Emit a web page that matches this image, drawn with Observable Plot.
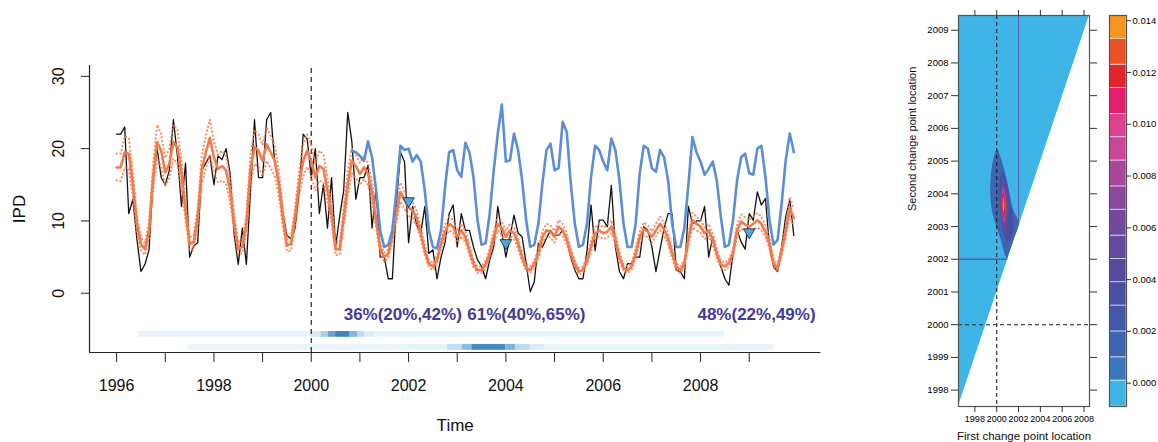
<!DOCTYPE html>
<html><head><meta charset="utf-8">
<script src="https://cdn.jsdelivr.net/npm/d3@7"></script>
<script src="https://cdn.jsdelivr.net/npm/@observablehq/plot@0.6"></script>
<style>
html,body{margin:0;padding:0;background:#fff;}
#wrap{position:relative;width:1158px;height:442px;overflow:hidden;background:#fff;}
#wrap > div{position:absolute;top:0;}
</style></head><body>
<div id="wrap"><div id="main" style="left:0"></div><div id="heat" style="left:880px"></div><div id="key" style="left:1100px"></div></div>
<script>
// ---------------- data ----------------
const startYear = 1996;
const observed = [22,22,23,11,13,7.5,3,4,6,16,20,16, 15,17,24,19,12,18,5,6.5,7,17,18,19, 15,19,18.5,20,16.5,8,4,9,4,14,24,16, 16,24,25,18,15.5,11,8,7.5,9,14,22,21.3, 16,20,11,15,9,16,6.4,10.6,14.2,25,21,13, 16,16,17.7,9,14.7,5,5,2,2,12.4,19.5,18.2, 7,12,9.4,8.3,12,5.5,6,2,5,7,11,12.2, 6.4,11,8.7,8.7,6.4,4.6,3.7,2,4.6,6.4,12,8.3, 5,7.8,10.8,8.3,7.8,4.1,0.2,1.6,6.9,6.4,7.6,8.7, 8,8,8.7,7.6,5,3.2,2,2,5.9,12.2,5.9,10.1, 10.1,9.2,14.9,6.4,3,2,4.1,4.1,5,5,9.2,8.7, 6.4,3,6,9,11,11,3.2,3,2,12,9.6,10, 10,12,5,7.8,5.5,3.7,2,1.1,5.5,8.7,7.1,6.1, 11,10.1,14,12.2,13.1,6.4,3.7,3,6.4,10.6,12.9,8];
const fitted = [17.4,17.4,19.5,19.3,15.1,9.6,6.8,6.1,8.7,16.0,20.9,19.7, 16.7,17.9,20.9,20.2,16.5,11.4,6.8,7.1,10.5,17.0,19.5,21.5, 18.8,17.2,17.6,17.0,14.2,9.6,6.1,6.4,9.6,17.0,20.2,19.7, 18.3,20.6,19.5,18.3,15.1,10.5,6.6,6.8,10.5,15.1,18.3,19.7, 18.3,16.0,17.6,17.2,14.2,11.0,6.1,6.1,10.5,15.1,18.3,17.6, 16.5,17.4,16.5,14.0,10.0,6.2,5.0,5.5,8.0,11.0,14.0,12.9, 11.8,11.5,10.4,8.3,5.9,4.1,3.7,4.6,6.9,8.5,9.6,9.2, 7.8,8.7,7.8,5.9,4.1,3.2,3.2,4.0,5.5,7.8,9.6,9.0, 7.8,8.7,8.3,6.9,5.0,3.5,3.2,4.0,5.5,7.8,8.7,8.5, 7.8,9.2,8.7,7.5,5.5,4.0,3.0,3.2,4.5,6.5,8.3,8.7, 8.3,8.5,9.2,7.4,5.0,3.5,3.2,3.7,5.5,7.8,8.9,8.5, 7.8,8.7,9.6,8.8,7.5,5.5,3.7,3.2,4.1,7.4,10.1,9.6, 9.2,8.3,8.7,7.4,5.5,4.0,3.7,4.2,5.5,8.7,9.9,9.5, 9.2,9.6,10.1,9.6,8.5,6.9,4.1,3.4,5.9,8.5,11.8,10.4];
const fittedUpper = [19.3,19.3,21.7,21.5,16.9,10.8,7.7,7.0,9.8,17.9,23.3,22.0, 18.7,20.0,23.3,22.6,18.4,12.8,7.7,8.0,11.8,19.0,21.8,24.0, 21.0,19.2,19.7,19.0,15.9,10.8,7.0,7.3,10.8,19.0,22.6,22.0, 20.5,23.0,21.8,20.5,16.9,11.8,7.5,7.7,11.8,16.9,20.5,22.0, 20.5,17.9,19.7,19.2,15.9,12.3,7.0,7.0,11.8,16.9,20.0,19.2, 18.0,19.0,18.0,15.3,11.0,6.9,5.6,6.1,8.8,12.1,15.3,14.1, 12.9,12.6,11.4,9.1,6.6,4.6,4.2,5.1,7.6,9.4,10.6,10.1, 8.6,9.6,8.6,6.6,4.6,3.7,3.7,4.5,6.1,8.6,10.6,9.9, 8.6,9.6,9.1,7.6,5.6,4.0,3.7,4.5,6.1,8.6,9.6,9.4, 8.6,10.1,9.6,8.3,6.1,4.5,3.5,3.7,5.0,7.2,9.1,9.6, 9.1,9.4,10.1,8.2,5.6,4.0,3.7,4.2,6.1,8.6,9.8,9.4, 8.6,9.6,10.6,9.7,8.3,6.1,4.2,3.7,4.6,8.2,11.1,10.6, 10.1,9.1,9.6,8.2,6.1,4.5,4.2,4.7,6.1,9.6,10.9,10.5, 10.1,10.6,11.1,10.6,9.4,7.6,4.6,3.9,6.6,9.4,13.3,11.6];
const fittedLower = [15.6,15.5,17.4,17.2,13.4,8.5,5.9,5.3,7.7,14.2,18.6,17.5, 14.8,15.9,18.6,17.9,14.6,10.1,5.9,6.2,9.3,15.1,17.3,19.1, 16.7,15.3,15.6,15.1,12.6,8.5,5.3,5.6,8.5,15.1,17.9,17.5, 16.2,18.3,17.3,16.2,13.4,9.3,5.8,5.9,9.3,13.4,16.2,17.5, 16.2,14.2,15.6,15.3,12.6,9.8,5.3,5.3,9.3,13.4,16.6,16.0, 15.0,15.8,15.0,12.7,9.0,5.5,4.4,4.9,7.2,9.9,12.7,11.7, 10.7,10.4,9.4,7.5,5.3,3.6,3.2,4.1,6.2,7.7,8.7,8.3, 7.0,7.9,7.0,5.3,3.6,2.8,2.8,3.5,4.9,7.0,8.7,8.1, 7.0,7.9,7.5,6.2,4.4,3.1,2.8,3.5,4.9,7.0,7.9,7.7, 7.0,8.3,7.9,6.8,4.9,3.5,2.6,2.8,4.0,5.8,7.5,7.9, 7.5,7.7,8.3,6.7,4.4,3.1,2.8,3.2,4.9,7.0,8.0,7.7, 7.0,7.9,8.7,7.9,6.8,4.9,3.2,2.8,3.6,6.7,9.1,8.7, 8.3,7.5,7.9,6.7,4.9,3.5,3.2,3.7,4.9,7.9,8.9,8.6, 8.3,8.7,9.1,8.7,7.7,6.2,3.6,3.0,5.3,7.7,10.7,9.4];
const counterfactualStartMonth = 58;
const counterfactual = [19.7,19.5, 19,18.3,21,18.8,14.2,8.7,6.4,6.7,8.7,14.2,20.4,19.8, 20,18.2,19.1,18.2,14.2,8.7,6.4,6.2,8.7,14.7,19.5,19.8, 17,16.1,20.8,19.5,16.1,10.1,6.7,6.9,11,17,22.1,26.1, 18.2,18.4,22.1,19.8,15.6,10.1,6.4,6.7,9.6,15.2,19.8,20.7, 17,17.3,23.7,22.3,15.2,9.6,6.4,6.7,9.6,16.1,20.4,19.8, 18.2,17,21.4,19.8,15.6,9.6,6.4,6.4,9.6,16.6,20.4,20, 17.3,16.8,19.8,18.8,15.6,9.6,6.4,6.4,9,15,21.6,19.5, 18.2,16.4,17.2,18.2,15.6,10.6,6.4,6.7,10.1,15.6,18.8,19.3, 16.6,16.4,20,20.4,16.1,10.1,6.7,7.4,12.4,18.4,22.1,19.5];
const interventionYear = 2000;
const changeMarkers = [{time: 2002.0, value: 12.75}, {time: 2004.0, value: 6.95}, {time: 2009.0, value: 8.45}];
const reductionLabels = [{time: 2001.88, label: "36%(20%,42%)"}, {time: 2004.42, label: "61%(40%,65%)"}, {time: 2009.15, label: "48%(22%,49%)"}];
const firstCPPosterior = [
  {start: 1996.45, end: 2000.0, density: 0.025}, {start: 2000.0, end: 2000.2, density: 0.12},
  {start: 2000.2, end: 2000.35, density: 0.35}, {start: 2000.35, end: 2000.5, density: 0.7},
  {start: 2000.5, end: 2000.8, density: 0.95}, {start: 2000.8, end: 2000.95, density: 0.55},
  {start: 2000.95, end: 2001.1, density: 0.25}, {start: 2001.1, end: 2001.3, density: 0.1},
  {start: 2001.3, end: 2008.5, density: 0.03}];
const secondCPPosterior = [
  {start: 1997.45, end: 2002.0, density: 0.02}, {start: 2002.0, end: 2002.8, density: 0.05},
  {start: 2002.8, end: 2003.1, density: 0.22}, {start: 2003.1, end: 2003.3, density: 0.5},
  {start: 2003.3, end: 2004.0, density: 0.9}, {start: 2004.0, end: 2004.2, density: 0.6},
  {start: 2004.2, end: 2004.5, density: 0.25}, {start: 2004.5, end: 2004.8, density: 0.1},
  {start: 2004.8, end: 2009.5, density: 0.035}];
const mainYTicks = [0, 10, 20, 30];
const mainXTicks = [1996,1997,1998,1999,2000,2001,2002,2003,2004,2005,2006,2007,2008,2009];

// joint posterior of the two change points
const hmFirstRange = [1996.5, 2008.5];
const hmSecondRange = [1997.5, 2009.45];
const feasibleRegion = [{first: 1996.5, lo: 1997.5, hi: 2009.45}, {first: 2008.5, lo: 2009.45, hi: 2009.45}];
const contourLevels = [
  {level: 0.0015, rows: [[2002.0,2000.98,2001.02],[2002.1,2000.83,2001.1],[2002.6,2000.4,2001.6],[2003.1,1999.9,2002.05],[2003.5,1999.6,2001.55],[2004.0,1999.45,2001.2],[2004.5,1999.5,2000.9],[2005.0,1999.7,2000.5],[2005.34,2000.0,2000.15]]},
  {level: 0.0035, rows: [[2002.55,2000.9,2001.3],[2002.9,2000.6,2001.55],[2003.3,2000.4,2001.5],[2003.9,2000.3,2001.25],[2004.4,2000.35,2000.95],[2004.7,2000.5,2000.6]]},
  {level: 0.0055, rows: [[2002.75,2000.75,2000.85],[2003.0,2000.55,2001.0],[2003.5,2000.42,2001.05],[2004.1,2000.42,2000.95],[2004.45,2000.55,2000.65]]},
  {level: 0.0085, rows: [[2003.1,2000.65,2000.8],[2003.4,2000.5,2000.92],[2003.9,2000.48,2000.88],[2004.2,2000.58,2000.7]]},
  {level: 0.0115, rows: [[2003.25,2000.66,2000.72],[2003.4,2000.6,2000.78],[2003.75,2000.55,2000.8],[2004.0,2000.6,2000.7]]},
  {level: 0.0138, rows: [[2003.45,2000.64,2000.7],[2003.65,2000.6,2000.74],[2003.85,2000.63,2000.69]]}
];
const truthFirst = 2002, truthSecond = 2002;
const hmYTicks = [1998,1999,2000,2001,2002,2003,2004,2005,2006,2007,2008,2009];
const hmXTicks = [1998,2000,2002,2004,2006,2008];
const keyBreaks = [-0.0009,0.0001,0.001,0.002,0.003,0.0039,0.0048,0.0057,0.0067,0.0076,0.0086,0.0095,0.0104,0.0114,0.0123,0.0133,0.0142];
const keyColors = ["#3fb5e7","#3b77bf","#3d65b0","#4158a8","#4a4fa3","#554aa0","#614a9f","#714a9f","#8a489e","#a8479c","#c94699","#e0418f","#e61e6e","#e4232f","#ec5226","#f6961e"];
const keyTicks = [0,0.002,0.004,0.006,0.008,0.010,0.012,0.014];

// ---------------- build tables ----------------
const series = observed.map((v, i) => ({time: startYear + i / 12, observed: v, fitted: fitted[i], upper: fittedUpper[i], lower: fittedLower[i]}));
const cf = counterfactual.map((v, i) => ({time: startYear + (counterfactualStartMonth + i) / 12, value: v}));
const FONT = "'Liberation Sans', Arial, Helvetica, sans-serif";

// ---------------- main time-series panel ----------------
const xDom = [1995.443, 2010.473], yDom = [-8.2, 31.5];
const ORANGE = "#f47a4c", BLUE = "#5b8ed6", PURPLE = "#453a96";
const main = Plot.plot({
  width: 860, height: 442,
  marginLeft: 89, marginRight: 39.6, marginTop: 65, marginBottom: 90,
  x: {domain: xDom}, y: {domain: yDom},
  color: {type: "linear", domain: [0, 1], range: ["#eef8fc", "#2f80c0"]},
  style: {fontFamily: FONT, background: "transparent", color: "#000"},
  marks: [
    Plot.rect(firstCPPosterior, {x1: "start", x2: "end", y1: -6.1, y2: -5.3, fill: "density"}),
    Plot.rect(secondCPPosterior, {x1: "start", x2: "end", y1: -7.9, y2: -7.1, fill: "density"}),
    Plot.ruleX([interventionYear], {y1: yDom[0], y2: yDom[1], stroke: "#333", strokeWidth: 1.3, strokeDasharray: "5,4"}),
    Plot.line(series, {x: "time", y: "observed", stroke: "#111", strokeWidth: 1.3}),
    Plot.line(series, {x: "time", y: "upper", stroke: ORANGE, strokeWidth: 2.3, strokeDasharray: "0.1,3.8", strokeLinecap: "round", strokeOpacity: 0.8}),
    Plot.line(series, {x: "time", y: "lower", stroke: ORANGE, strokeWidth: 2.3, strokeDasharray: "0.1,3.8", strokeLinecap: "round", strokeOpacity: 0.8}),
    Plot.line(series, {x: "time", y: "fitted", stroke: ORANGE, strokeWidth: 2.6}),
    Plot.line(cf, {x: "time", y: "value", stroke: BLUE, strokeWidth: 2.6}),
    Plot.dot(changeMarkers, {x: "time", y: "value", symbol: "triangle", rotate: 180, r: 4.3, fill: "#4fa6d8", stroke: "#1d3550", strokeWidth: 0.9}),
    Plot.text(reductionLabels, {x: "time", y: -2.9, text: "label", fill: PURPLE, fontWeight: "bold", fontSize: 17}),
    // L-shaped box
    Plot.ruleX([xDom[0]], {y1: yDom[0], y2: yDom[1], stroke: "#222", strokeWidth: 1.2}),
    Plot.ruleY([yDom[0]], {x1: xDom[0], x2: xDom[1], stroke: "#222", strokeWidth: 1.2}),
    Plot.axisY({ticks: mainYTicks, tickSize: 8, tickFormat: () => "", label: null, stroke: "#222"}),
    Plot.text(mainYTicks, {x: xDom[0], y: d => d, dx: -31, text: d => String(d), rotate: -90, fontSize: 16, fill: "#111"}),
    Plot.axisX({ticks: mainXTicks, tickSize: 10, tickPadding: 17, fontSize: 16, tickFormat: d => (d % 2 === 0 ? String(d) : ""), label: null, stroke: "#222", fill: "#111"}),
    Plot.text(["Time"], {x: (xDom[0] + xDom[1]) / 2, y: yDom[0], dy: 73, text: d => d, fontSize: 17, fill: "#111"}),
    Plot.text(["IPD"], {x: xDom[0], y: (yDom[0] + yDom[1]) / 2, dx: -70, text: d => d, rotate: -90, fontSize: 17, fill: "#111"})
  ]
});
document.getElementById("main").appendChild(main);

// ---------------- joint posterior heat map ----------------
const contourRows = contourLevels.flatMap(c => c.rows.map(([second, lo, hi]) => ({level: c.level, second, lo, hi})));
const colorScale = {type: "threshold", domain: keyBreaks.slice(1, -1), range: keyColors};
const heat = Plot.plot({
  width: 220, height: 442,
  marginLeft: 78, marginRight: 11, marginTop: 15, marginBottom: 36,
  x: {domain: hmFirstRange}, y: {domain: hmSecondRange},
  color: colorScale,
  style: {fontFamily: FONT, background: "transparent", color: "#000", overflow: "visible"},
  marks: [
    Plot.areaY(feasibleRegion, {x: "first", y1: "lo", y2: "hi", fill: keyColors[0]}),
    Plot.areaX(contourRows, {y: "second", x1: "lo", x2: "hi", z: "level", fill: "level", curve: "catmull-rom"}),
    Plot.ruleX([truthFirst], {y1: truthFirst + 1, y2: hmSecondRange[1], stroke: "#5d5aa6", strokeWidth: 1.1, strokeOpacity: 0.85}),
    Plot.ruleY([truthSecond], {x1: hmFirstRange[0], x2: truthSecond - 1, stroke: "#5d5aa6", strokeWidth: 1.6}),
    Plot.ruleX([interventionYear], {stroke: "#222", strokeWidth: 1.1, strokeDasharray: "4,3"}),
    Plot.ruleY([interventionYear], {stroke: "#222", strokeWidth: 1.1, strokeDasharray: "4,3"}),
    Plot.frame({stroke: "#555", strokeWidth: 1.2}),
    Plot.axisY({ticks: hmYTicks, tickSize: 7, tickPadding: 3, fontSize: 9.5, tickFormat: d => String(d), label: null, stroke: "#333"}),
    Plot.axisY({anchor: "right", ticks: hmYTicks, tickSize: 7, tickFormat: () => "", label: null, stroke: "#333"}),
    Plot.axisX({ticks: hmXTicks, tickSize: 6, tickPadding: 3, fontSize: 9, tickFormat: d => String(d), label: null, stroke: "#333"}),
    Plot.axisX({anchor: "top", ticks: hmXTicks, tickSize: 6, tickFormat: () => "", label: null, stroke: "#333"}),
    Plot.text(["Second change point location"], {frameAnchor: "left", dx: -46, rotate: -90, text: d => d, fontSize: 11, fill: "#111"}),
    Plot.text(["First change point location"], {frameAnchor: "bottom", dy: 33, text: d => d, fontSize: 11.5, fill: "#111"})
  ]
});
document.getElementById("heat").appendChild(heat);

// ---------------- colour key ----------------
const keyBands = keyBreaks.slice(0, -1).map((lo, i) => ({lo, hi: keyBreaks[i + 1]}));
const key = Plot.plot({
  width: 58, height: 442,
  marginLeft: 9, marginRight: 32, marginTop: 15, marginBottom: 36,
  x: {domain: [0, 1], axis: null}, y: {domain: [keyBreaks[0], keyBreaks[keyBreaks.length - 1]], axis: null},
  color: colorScale,
  style: {fontFamily: FONT, background: "transparent", color: "#000", overflow: "visible"},
  marks: [
    Plot.rect(keyBands, {x1: 0, x2: 1, y1: "lo", y2: "hi", fill: "lo", stroke: "#fff", strokeWidth: 0.8, strokeOpacity: 0.7}),
    Plot.frame({stroke: "#555", strokeWidth: 1.2}),
    Plot.axisY({anchor: "right", ticks: keyTicks, tickSize: 4, tickPadding: 2, fontSize: 9.5, tickFormat: d => d.toFixed(3), label: null, stroke: "#333"})
  ]
});
document.getElementById("key").appendChild(key);
</script></body></html>
